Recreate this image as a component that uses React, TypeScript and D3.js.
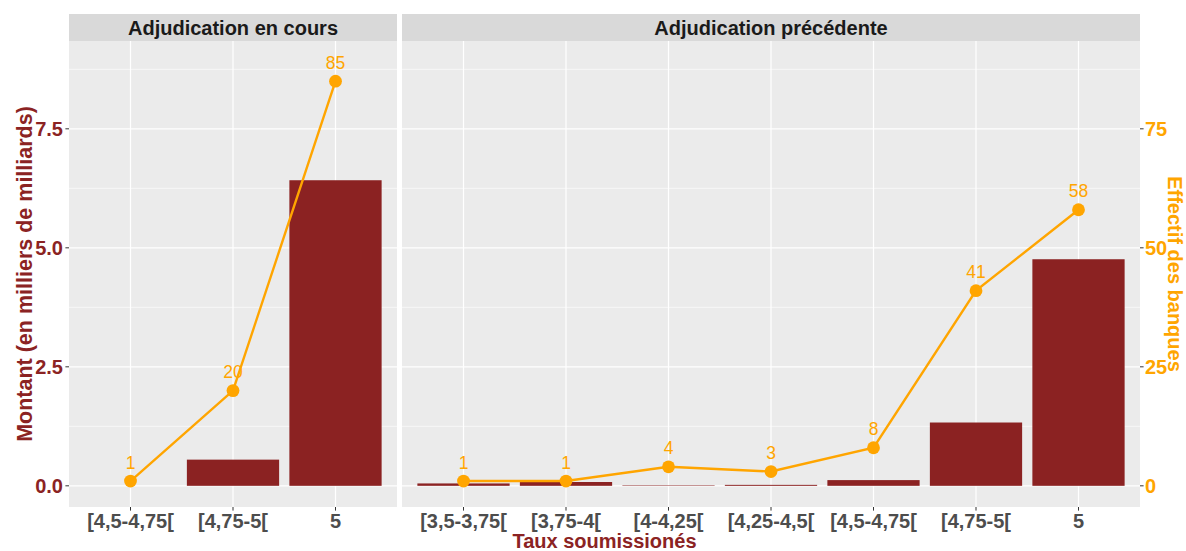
import React from "react";
import * as d3 from "d3";

const panels = ["Adjudication en cours", "Adjudication précédente"];
const catsCurrent = ["[4,5-4,75[", "[4,75-5[", "5"];
const amountCurrent = [0, 0.55, 6.42];
const countCurrent = [1, 20, 85];
const catsPrev = ["[3,5-3,75[", "[3,75-4[", "[4-4,25[", "[4,25-4,5[", "[4,5-4,75[", "[4,75-5[", "5"];
const amountPrev = [0.05, 0.08, 0.01, 0.02, 0.12, 1.33, 4.76];
const countPrev = [1, 1, 4, 3, 8, 41, 58];
const leftTicks = [0, 2.5, 5, 7.5];
const rightTicks = [0, 25, 50, 75];
const countScale = 10;

const W = 1186;
const H = 551;
const FONT = "'Liberation Sans', Arial, sans-serif";
const BAR = "#8B2222";
const ORANGE = "#FFA500";
const DARKRED = "#8B2323";

export default function App() {
  const top = 41;
  const bottom = 507;
  const stripTop = 14;
  const y = d3.scaleLinear().domain([-0.445, 9.345]).range([bottom, top]);
  const minor = [1.25, 3.75, 6.25, 8.75];

  const panelDefs = [
    { name: panels[0], cats: catsCurrent, amt: amountCurrent, cnt: countCurrent, x0: 69, x1: 397 },
    { name: panels[1], cats: catsPrev, amt: amountPrev, cnt: countPrev, x0: 402, x1: 1140 },
  ];

  return (
    <svg width={W} height={H} style={{ display: "block", position: "absolute", left: 0, top: 0 }} fontFamily={FONT}>
      <rect width={W} height={H} fill="white" />
      {panelDefs.map((p, pi) => {
        const n = p.cats.length;
        const x = d3
          .scalePoint<string>()
          .domain(p.cats)
          .range([p.x0, p.x1])
          .padding(0.6);
        const step = (p.x1 - p.x0) / (n + 0.2);
        const cx = (i: number) => x(p.cats[i]) as number;
        const bw = 0.9 * step;
        const line = d3
          .line<number>()
          .x((_, i) => cx(i))
          .y((v) => y(v / countScale));
        return (
          <g key={pi}>
            <rect x={p.x0} y={stripTop} width={p.x1 - p.x0} height={top - stripTop} fill="#D9D9D9" />
            <text x={(p.x0 + p.x1) / 2} y={(stripTop + top) / 2 + 7} textAnchor="middle" fontSize={20} fontWeight="bold" fill="#1A1A1A">
              {p.name}
            </text>
            <rect x={p.x0} y={top} width={p.x1 - p.x0} height={bottom - top} fill="#EBEBEB" />
            {minor.map((t) => (
              <line key={"mn" + t} x1={p.x0} x2={p.x1} y1={y(t)} y2={y(t)} stroke="white" strokeWidth={0.6} />
            ))}
            {leftTicks.map((t) => (
              <line key={"mj" + t} x1={p.x0} x2={p.x1} y1={y(t)} y2={y(t)} stroke="white" strokeWidth={1.2} />
            ))}
            {p.cats.map((c, i) => (
              <line key={"v" + c} x1={cx(i)} x2={cx(i)} y1={top} y2={bottom} stroke="white" strokeWidth={1.2} />
            ))}
            {p.amt.map((a, i) =>
              a > 0 ? (
                <rect key={"b" + i} x={cx(i) - bw / 2} y={y(a)} width={bw} height={y(0) - y(a)} fill={BAR} />
              ) : null
            )}
            <path d={line(p.cnt) || ""} fill="none" stroke={ORANGE} strokeWidth={2.4} />
            {p.cnt.map((v, i) => (
              <circle key={"c" + i} cx={cx(i)} cy={y(v / countScale)} r={6.4} fill={ORANGE} />
            ))}
            {p.cnt.map((v, i) => (
              <text key={"l" + i} x={cx(i)} y={y(v / countScale + 0.4) + 6.5} textAnchor="middle" fontSize={17.5} fill={ORANGE}>
                {v}
              </text>
            ))}
            {p.cats.map((c, i) => (
              <g key={"xt" + c}>
                <line x1={cx(i)} x2={cx(i)} y1={bottom} y2={bottom + 3.6} stroke="#333333" strokeWidth={1} />
                <text x={cx(i)} y={bottom + 20.5} textAnchor="middle" fontSize={20} fontWeight="bold" fill="#4D4D4D">
                  {c}
                </text>
              </g>
            ))}
          </g>
        );
      })}
      {leftTicks.map((t) => (
        <g key={"yl" + t}>
          <line x1={65.4} x2={69} y1={y(t)} y2={y(t)} stroke="#333333" strokeWidth={1} />
          <text x={63} y={y(t) + 7.5} textAnchor="end" fontSize={20} fontWeight="bold" fill={DARKRED}>
            {t.toFixed(1)}
          </text>
        </g>
      ))}
      {rightTicks.map((t) => (
        <g key={"yr" + t}>
          <line x1={1140} x2={1143.6} y1={y(t / countScale)} y2={y(t / countScale)} stroke="#333333" strokeWidth={1} />
          <text x={1145} y={y(t / countScale) + 7.5} textAnchor="start" fontSize={20} fontWeight="bold" fill={ORANGE}>
            {t}
          </text>
        </g>
      ))}
      <text
        transform={`translate(32,${(top + bottom) / 2}) rotate(-90)`}
        textAnchor="middle"
        fontSize={21.5}
        fontWeight="bold"
        fill={DARKRED}
      >
        Montant (en milliers de milliards)
      </text>
      <text
        transform={`translate(1168,${(top + bottom) / 2}) rotate(90)`}
        textAnchor="middle"
        fontSize={20}
        fontWeight="bold"
        fill={ORANGE}
      >
        Effectif des banques
      </text>
      <text x={(69 + 1140) / 2} y={548} textAnchor="middle" fontSize={20} fontWeight="bold" fill={DARKRED}>
        Taux soumissionés
      </text>
    </svg>
  );
}
